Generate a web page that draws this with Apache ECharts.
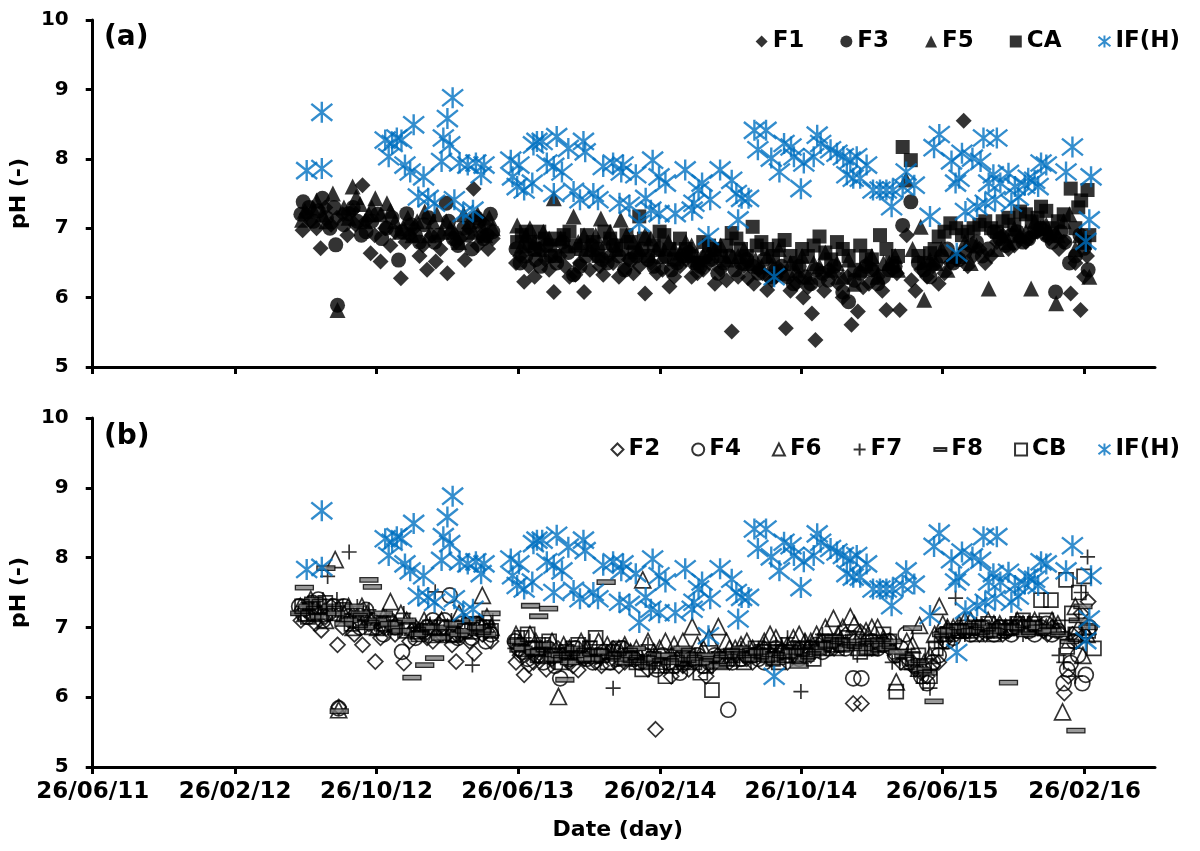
<!DOCTYPE html>
<html><head><meta charset="utf-8">
<script src="https://cdn.jsdelivr.net/npm/echarts@6/dist/echarts.min.js"></script>
<style>html,body{margin:0;padding:0;background:#fff}#c{width:1200px;height:851px}</style>
</head><body><div id="c"></div>
<script>
// Dates are stored as days since the first tick date (26/06/11)
const START_DATE = [2011, 6, 26];
const END_DATE = [2016, 6, 26];
const xTickLabels = ['26/06/11','26/02/12','26/10/12','26/06/13','26/02/14','26/10/14','26/06/15','26/02/16'];
const yMin = 5, yMax = 10, yStep = 1;

// Panel (a)
const F1 = [[361,6.97],[375,7.1],[392,6.71],[410,7.05],[430,7.2],[447,7.25],[464,7.62],[478,6.64],[495,6.52],[512,6.75],[530,6.28],[545,6.9],[562,6.6],[575,6.4],[590,6.52],[610,6.35],[625,6.8],[640,6.54],[655,7.57],[668,6.9],[680,6.7],
[728,6.5],[742,6.23],[760,6.3],[778,6.55],[793,6.08],[812,6.45],[830,6.33],[845,6.08],[865,6.6],[878,6.33],[895,6.5],[915,6.4],[930,6.35],[950,6.06],[970,6.35],[992,6.16],[1010,6.45],[1030,6.3],[1050,6.4],[1070,6.2],[1099,5.51],[1110,6.3],[1127,6.28],[1145,6.4],[1160,6.11],[1175,6.3],[1192,5.56],[1210,6.2],[1222,6.0],[1237,5.77],[1243,5.39],[1258,6.1],[1275,6.35],[1290,6.0],[1305,5.61],[1316,5.8],[1335,6.2],[1350,6.3],[1365,5.82],[1375,6.4],[1388,5.82],[1400,6.9],[1415,6.1],[1435,6.3],[1455,6.2],[1475,6.5],[1498,8.55],[1515,6.6],[1535,6.5],[1555,6.8],[1575,6.7],[1595,6.85],[1615,6.9],[1635,7.0],[1655,6.9],[1670,6.8],[1682,6.06],[1699,5.82],[1710,6.6],
[368,7.2],[385,7.0],[400,7.3],[420,7.15],[438,6.9],[452,7.05],[470,7.1],[485,6.9],[503,7.0],[520,6.95],[538,6.8],[553,7.0],[568,6.75],[583,6.9],[598,6.7],[617,6.95],[632,6.85],[647,7.0],[662,6.75],[675,7.05],[688,6.85],
[735,6.6],[750,6.45],[768,6.7],[785,6.4],[803,6.6],[820,6.3],[838,6.5],[855,6.4],[872,6.45],[888,6.6],[905,6.3],[922,6.55],[940,6.45],[960,6.5],[980,6.4],[1000,6.3],[1020,6.55],[1040,6.35],[1060,6.5],[1080,6.4],[1090,6.25],[1120,6.45],[1137,6.2],[1152,6.35],[1168,6.25],[1183,6.4],[1200,6.1],[1215,6.3],[1230,6.15],[1250,6.25],[1266,6.4],[1282,6.2],[1298,6.3],[1325,6.15],[1342,6.4],[1358,6.1],[1383,6.35],[1408,6.25],[1425,6.4],[1445,6.45],[1465,6.35],[1485,6.55],[1505,6.45],[1525,6.7],[1545,6.6],[1565,6.9],[1585,6.75],[1605,6.8],[1625,6.95],[1645,6.85],[1662,6.7],[1690,6.5],[1705,6.3]];
const F3 = [[362,7.38],[380,7.1],[395,7.43],[408,7.0],[418,6.76],[421,5.89],[440,7.21],[455,7.1],[470,6.95],[490,7.2],[505,7.0],[526,6.54],[540,7.21],[555,6.9],[570,7.05],[588,6.8],[608,7.36],[620,6.85],[638,7.0],[652,6.7],[665,7.1],[678,6.9],[688,6.95],
[728,6.7],[745,6.6],[762,6.55],[780,6.75],[798,6.5],[818,6.65],[827,6.33],[848,6.6],[868,6.7],[885,6.5],[905,6.6],[925,6.55],[945,6.7],[965,6.45],[985,6.6],[1005,6.5],[1025,6.65],[1045,6.45],[1065,6.55],[1085,6.5],[1105,6.4],[1125,6.55],[1145,6.35],[1165,6.3],[1185,6.45],[1205,6.2],[1225,6.3],[1245,6.4],[1265,6.25],[1290,6.08],[1300,5.94],[1320,6.35],[1340,6.4],[1360,6.3],[1380,6.45],[1393,7.04],[1407,7.38],[1420,6.5],[1440,6.3],[1460,6.6],[1480,6.5],[1500,6.65],[1520,6.8],[1540,6.7],[1560,6.85],[1580,6.9],[1600,6.8],[1620,6.95],[1640,6.9],[1656,6.08],[1672,6.8],[1690,6.6],[1705,6.71],[1712,6.4],
[358,7.2],[372,7.3],[388,7.25],[402,7.15],[415,7.3],[432,7.05],[448,7.3],[462,6.9],[480,7.1],[497,6.85],[515,7.15],[532,6.95],[548,7.05],[562,6.8],[578,7.15],[595,6.9],[612,7.1],[628,6.75],[645,6.9],[660,7.15],[672,6.85],[684,7.2],
[735,6.5],[752,6.75],[770,6.45],[788,6.6],[808,6.8],[838,6.45],[858,6.75],[876,6.55],[895,6.75],[915,6.4],[935,6.6],[955,6.55],[975,6.7],[995,6.4],[1015,6.6],[1035,6.5],[1055,6.6],[1075,6.35],[1095,6.6],[1115,6.5],[1135,6.45],[1155,6.55],[1175,6.4],[1195,6.3],[1215,6.45],[1235,6.2],[1255,6.35],[1275,6.45],[1310,6.25],[1330,6.45],[1350,6.2],[1370,6.4],[1430,6.4],[1450,6.5],[1470,6.7],[1490,6.55],[1510,6.75],[1530,6.6],[1550,6.95],[1570,6.75],[1590,6.95],[1610,6.85],[1630,7.0],[1650,6.8],[1665,6.95],[1680,6.5],[1698,6.9]];
const F5 = [[360,7.12],[378,7.3],[395,7.2],[413,7.5],[421,5.82],[432,7.3],[447,7.6],[460,7.35],[475,7.2],[486,7.43],[506,7.36],[520,7.1],[535,7.0],[550,6.9],[571,7.24],[585,7.1],[600,6.95],[615,7.0],[630,6.8],[648,7.1],[662,7.2],[675,6.9],[688,7.0],
[730,7.04],[745,6.9],[760,6.8],[775,6.95],[793,7.43],[805,6.85],[827,7.17],[845,6.9],[874,7.14],[890,6.95],[908,7.12],[930,6.8],[950,6.9],[970,6.7],[990,6.8],[1010,6.65],[1030,6.75],[1050,6.6],[1070,6.7],[1090,6.55],[1110,6.6],[1130,6.5],[1150,6.45],[1170,6.5],[1190,6.35],[1210,6.4],[1230,6.3],[1250,6.45],[1270,6.4],[1290,6.3],[1310,6.2],[1330,6.5],[1350,6.3],[1370,6.5],[1385,6.4],[1399,7.7],[1424,7.02],[1430,5.97],[1450,6.5],[1470,6.4],[1490,6.6],[1510,6.5],[1541,6.13],[1555,6.7],[1575,6.8],[1595,6.9],[1614,6.13],[1630,7.0],[1645,6.95],[1657,5.92],[1670,7.1],[1690,6.7],[1705,6.8],[1714,6.3],
[365,7.25],[385,7.4],[402,7.1],[440,7.15],[453,7.45],[468,7.1],[480,7.3],[495,7.2],[512,7.25],[528,6.95],[542,7.15],[558,7.1],[578,6.9],[592,7.2],[608,7.1],[622,6.95],[638,7.2],[655,6.95],[668,7.05],[682,7.15],
[738,6.75],[752,7.0],[768,6.7],[785,6.85],[815,6.75],[835,6.8],[855,6.7],[865,6.9],[882,6.8],[900,6.7],[918,6.9],[940,6.7],[960,6.85],[980,6.6],[1000,6.7],[1020,6.8],[1040,6.55],[1060,6.65],[1080,6.75],[1100,6.6],[1120,6.7],[1140,6.55],[1160,6.6],[1180,6.7],[1200,6.5],[1220,6.6],[1240,6.5],[1260,6.65],[1280,6.5],[1300,6.55],[1320,6.4],[1340,6.6],[1360,6.5],[1380,6.6],[1410,6.7],[1440,6.55],[1460,6.7],[1480,6.6],[1500,6.8],[1520,6.75],[1565,6.9],[1585,7.0],[1605,6.95],[1620,7.1],[1640,7.05],[1660,6.9],[1680,7.2],[1698,6.9]];
const CA = [[730,6.8],[745,6.95],[760,6.7],[778,6.85],[795,6.6],[810,6.9],[830,6.75],[850,6.9],[870,6.6],[890,6.85],[910,6.7],[925,6.8],[940,7.17],[955,6.6],[983,6.9],[1000,6.55],[1020,6.7],[1040,6.5],[1060,6.75],[1080,6.6],[1099,6.93],[1115,6.7],[1135,7.02],[1150,6.8],[1170,6.6],[1190,6.83],[1210,6.5],[1230,6.6],[1250,6.88],[1270,6.55],[1290,6.7],[1310,6.4],[1330,6.6],[1354,6.9],[1375,6.5],[1393,8.17],[1407,7.98],[1420,6.6],[1440,6.64],[1455,6.88],[1475,7.07],[1495,6.9],[1515,7.0],[1535,7.1],[1555,6.95],[1575,7.15],[1595,7.24],[1615,7.1],[1631,7.31],[1650,7.0],[1670,7.2],[1682,7.57],[1695,7.3],[1711,7.55],[1714,6.9],
[738,6.9],[752,6.8],[768,6.95],[787,6.75],[802,6.85],[820,6.95],[840,6.7],[860,6.8],[880,6.95],[900,6.75],[918,6.9],[932,6.65],[948,6.85],[965,6.75],[975,6.95],[992,6.7],[1010,6.85],[1030,6.6],[1050,6.8],[1070,6.7],[1090,6.75],[1107,6.85],[1125,6.6],[1142,6.75],[1160,6.7],[1180,6.75],[1200,6.6],[1220,6.7],[1240,6.75],[1260,6.65],[1280,6.8],[1300,6.6],[1320,6.75],[1340,6.55],[1365,6.7],[1385,6.6],[1430,6.5],[1448,6.7],[1465,6.95],[1485,7.0],[1505,6.95],[1525,7.05],[1545,7.0],[1565,7.1],[1585,7.05],[1605,7.2],[1625,7.15],[1640,7.25],[1660,7.1],[1690,7.0],[1700,7.4],[1706,6.8]];
const IF_H = [[368,7.83],[394,8.67],[394,7.86],[503,8.27],[509,8.03],[515,8.22],[523,8.30],[531,8.27],[537,7.91],[546,7.81],[552,8.49],[560,7.45],[569,7.74],[577,7.43],[588,7.36],[600,7.96],[603,8.30],[610,8.58],[614,8.20],[619,8.88],[622,7.41],[631,7.94],[637,7.21],[645,7.91],[654,7.26],[659,7.94],[668,7.77],[673,7.91],
[719,7.98],[722,7.74],[730,7.60],[733,7.91],[742,7.55],[756,7.65],[758,8.20],[764,8.25],[773,8.25],[781,7.94],[793,7.89],[793,7.50],[798,8.32],[807,7.81],[818,8.15],[827,7.53],[838,7.41],[844,8.25],[847,8.10],[861,7.50],[869,7.41],[878,7.89],[895,7.94],[906,7.36],[909,7.81],[912,7.91],[923,7.33],[934,7.77],[940,7.07],[951,7.43],[960,7.26],[963,7.98],[974,7.74],[974,7.21],[985,7.65],[1002,7.21],[1019,7.84],[1031,7.26],[1034,7.36],[1042,7.55],[1048,7.65],[1059,6.88],[1062,7.41],[1079,7.84],[1099,7.69],[1107,7.50],[1110,7.12],[1116,7.43],[1128,7.43],[1138,8.41],[1144,8.13],[1158,8.41],[1167,8.01],[1172,6.30],[1181,7.81],[1189,8.22],[1201,8.17],[1206,8.03],[1218,7.57],[1223,7.94],[1240,8.03],[1246,8.34],[1252,8.22],[1269,8.13],[1280,8.08],[1291,8.03],[1297,7.77],[1303,7.98],[1308,7.72],[1314,8.03],[1320,7.72],[1331,7.91],[1342,7.55],[1354,7.55],[1365,7.55],[1374,7.31],[1376,7.55],[1393,7.60],[1399,7.81],[1413,7.62],[1440,7.17],[1447,8.16],[1456,8.35],[1477,7.97],[1484,7.65],[1486,6.64],[1490,7.72],[1495,8.08],[1501,7.24],[1513,8.01],[1521,7.31],[1527,7.96],[1532,8.30],[1535,7.36],[1541,7.65],[1549,7.77],[1552,7.41],[1555,8.30],[1561,7.65],[1575,7.79],[1580,7.36],[1586,7.60],[1592,7.45],[1603,7.62],[1609,7.72],[1620,7.69],[1626,7.60],[1631,7.94],[1640,7.91],[1674,7.81],[1685,8.17],[1708,6.81],[1714,7.12],[1717,7.74]];

// Panel (b)
const F2 = [[358,7.1],[375,7.2],[393,6.96],[410,7.3],[421,6.75],[423,5.86],[440,7.1],[464,6.75],[486,6.51],[500,7.0],[520,6.9],[535,6.49],[555,7.0],[575,6.85],[595,7.05],[610,6.9],[625,6.51],[640,7.0],[656,6.63],[670,6.9],[685,6.8],
[728,6.5],[742,6.32],[750,6.46],[765,6.6],[780,6.4],[800,6.7],[818,6.5],[835,6.39],[855,6.6],[875,6.45],[895,6.7],[915,6.5],[935,6.55],[955,6.4],[968,5.54],[995,6.3],[1015,6.45],[1035,6.5],[1055,6.3],[1075,6.6],[1095,6.5],[1115,6.65],[1135,6.5],[1155,6.7],[1175,6.6],[1195,6.5],[1215,6.7],[1235,6.6],[1255,6.8],[1275,6.7],[1295,6.9],[1308,5.91],[1320,6.94],[1322,5.91],[1340,6.7],[1360,6.8],[1380,6.6],[1400,6.55],[1415,6.4],[1435,6.3],[1455,6.5],[1475,6.9],[1495,6.95],[1515,7.0],[1535,6.9],[1555,7.0],[1575,6.95],[1595,7.05],[1615,7.0],[1635,6.95],[1650,7.0],[1671,6.06],[1685,6.9],[1700,7.2],[1712,7.37],
[365,7.25],[383,7.05],[400,7.15],[430,7.0],[450,6.9],[475,7.05],[495,6.85],[512,7.1],[545,6.8],[565,6.95],[585,6.8],[603,7.0],[618,6.75],[632,6.9],[648,6.8],[663,7.05],[678,6.95],
[735,6.6],[758,6.5],[772,6.7],[790,6.55],[808,6.6],[826,6.45],[845,6.55],[865,6.5],[885,6.6],[905,6.45],[925,6.6],[945,6.5],[980,6.45],[1005,6.55],[1025,6.4],[1045,6.55],[1065,6.45],[1085,6.55],[1105,6.6],[1125,6.55],[1145,6.65],[1165,6.55],[1185,6.65],[1205,6.6],[1225,6.65],[1245,6.7],[1265,6.75],[1285,6.8],[1350,6.75],[1370,6.7],[1390,6.5],[1425,6.35],[1445,6.45],[1465,6.8],[1485,6.9],[1505,6.95],[1525,6.9],[1545,6.95],[1565,6.9],[1585,7.0],[1605,6.95],[1625,7.0],[1642,6.9],[1660,6.95],[1678,6.3],[1692,6.8],[1706,6.9]];
const F4 = [[355,7.3],[370,7.15],[388,7.4],[405,7.2],[423,5.84],[432,7.3],[450,7.1],[470,7.25],[490,7.0],[510,7.1],[532,6.65],[545,7.0],[565,6.95],[585,7.1],[614,7.46],[620,6.9],[635,7.05],[652,6.85],[668,7.0],[685,6.9],
[726,6.8],[740,6.65],[758,6.7],[775,6.5],[804,6.27],[810,6.6],[830,6.7],[850,6.55],[870,6.6],[890,6.5],[910,6.7],[930,6.55],[950,6.6],[970,6.4],[990,6.5],[1010,6.35],[1030,6.55],[1050,6.45],[1070,6.6],[1093,5.82],[1100,6.5],[1115,6.55],[1135,6.6],[1155,6.5],[1175,6.7],[1195,6.6],[1215,6.55],[1235,6.7],[1255,6.65],[1275,6.8],[1295,6.7],[1308,6.27],[1322,6.27],[1340,6.8],[1360,6.75],[1380,6.6],[1398,6.9],[1415,6.45],[1435,6.2],[1455,6.6],[1470,6.8],[1490,6.95],[1510,6.9],[1530,7.0],[1550,6.9],[1570,6.95],[1590,7.0],[1610,6.95],[1630,7.0],[1650,6.9],[1670,6.2],[1682,6.49],[1695,6.6],[1708,6.32],[1714,7.0],
[362,7.2],[378,7.35],[396,7.1],[414,7.3],[440,7.15],[460,7.0],[480,7.1],[500,6.9],[520,7.0],[555,6.85],[575,7.0],[595,6.9],[605,7.1],[628,6.85],[643,6.95],[660,7.05],[676,6.8],
[733,6.7],[748,6.55],[766,6.6],[783,6.7],[795,6.45],[820,6.55],[840,6.6],[860,6.5],[880,6.65],[900,6.55],[920,6.6],[940,6.5],[960,6.55],[980,6.6],[1000,6.45],[1020,6.5],[1040,6.6],[1060,6.5],[1080,6.55],[1125,6.6],[1145,6.55],[1165,6.6],[1185,6.65],[1205,6.7],[1225,6.6],[1245,6.75],[1265,6.7],[1285,6.75],[1350,6.7],[1370,6.8],[1390,6.7],[1405,6.5],[1425,6.3],[1445,6.5],[1462,6.9],[1480,6.85],[1500,6.95],[1520,7.0],[1540,6.95],[1560,7.0],[1580,6.9],[1600,7.0],[1620,6.9],[1640,7.05],[1660,6.95],[1676,6.4],[1688,6.8],[1702,6.2]];
const F6 = [[357,7.3],[375,7.4],[392,7.2],[417,7.97],[423,5.82],[440,7.3],[455,7.1],[472,7.2],[490,7.0],[512,7.37],[530,7.2],[550,7.0],[570,7.1],[590,6.9],[610,7.0],[630,7.2],[650,6.95],[670,7.46],[685,7.0],
[728,6.9],[745,6.7],[762,6.8],[780,6.6],[801,6.01],[820,6.7],[840,6.8],[860,6.6],[885,6.75],[905,6.7],[925,6.65],[946,7.68],[965,6.65],[985,6.8],[1000,6.75],[1031,7.01],[1050,6.7],[1076,7.01],[1090,6.8],[1105,6.7],[1125,6.8],[1145,6.65],[1165,6.9],[1185,6.7],[1205,6.85],[1225,6.8],[1245,6.9],[1274,7.13],[1290,7.0],[1303,7.15],[1320,6.9],[1340,7.0],[1360,6.85],[1382,6.22],[1400,6.8],[1422,7.03],[1440,6.6],[1456,7.3],[1470,7.0],[1490,7.05],[1510,7.1],[1530,7.0],[1550,7.05],[1570,7.0],[1590,7.1],[1610,7.05],[1630,7.0],[1650,7.1],[1668,5.79],[1680,6.82],[1695,7.0],[1710,6.9],
[365,7.2],[383,7.3],[400,7.1],[432,7.2],[448,7.0],[463,7.3],[480,7.1],[500,7.15],[520,7.05],[540,7.1],[560,6.95],[580,7.0],[600,7.1],[620,6.9],[640,7.05],[660,7.0],[678,7.15],
[735,6.8],[752,6.9],[770,6.7],[790,6.8],[810,6.75],[830,6.6],[850,6.7],[870,6.8],[895,6.65],[915,6.75],[935,6.7],[955,6.8],[975,6.7],[995,6.6],[1015,6.8],[1040,6.75],[1060,6.85],[1095,6.7],[1115,6.75],[1135,6.7],[1155,6.8],[1175,6.85],[1195,6.75],[1215,6.9],[1235,6.8],[1260,7.0],[1282,6.9],[1310,7.05],[1330,6.95],[1350,7.0],[1370,6.8],[1410,6.75],[1430,6.5],[1448,6.9],[1462,7.05],[1480,7.0],[1500,7.1],[1520,7.0],[1540,7.1],[1560,7.05],[1580,7.0],[1600,7.05],[1620,7.1],[1640,7.0],[1660,7.05],[1690,7.3],[1703,6.6]];
const F7 = [[354,7.2],[370,7.35],[388,7.3],[404,7.73],[420,7.4],[441,8.08],[455,7.3],[475,7.25],[495,7.1],[515,7.0],[535,7.2],[555,7.0],[570,6.9],[589,7.51],[610,7.0],[625,6.9],[640,7.1],[653,6.46],[665,7.1],[682,7.0],
[726,6.7],[742,6.85],[760,6.6],[778,6.75],[795,6.5],[815,6.7],[835,6.6],[855,6.8],[875,6.55],[895,6.13],[915,6.7],[935,6.6],[955,6.75],[975,6.5],[995,6.6],[1015,6.45],[1035,6.6],[1055,6.5],[1075,6.65],[1095,6.55],[1115,6.7],[1135,6.6],[1155,6.75],[1175,6.75],[1195,6.85],[1218,6.08],[1235,6.7],[1255,6.9],[1275,6.75],[1295,6.8],[1315,6.6],[1335,6.9],[1355,6.75],[1375,6.5],[1400,6.6],[1418,6.3],[1440,6.13],[1455,6.7],[1470,7.0],[1484,7.42],[1500,6.9],[1520,7.05],[1540,6.95],[1560,7.0],[1580,7.05],[1600,6.9],[1620,7.0],[1640,6.95],[1655,7.0],[1670,6.5],[1690,6.3],[1711,8.01],[1714,6.9],
[362,7.3],[378,7.2],[396,7.4],[412,7.2],[430,7.3],[448,7.1],[465,7.2],[485,7.05],[505,7.15],[525,6.95],[545,7.1],[562,6.95],[580,7.05],[598,6.9],[617,7.1],[632,6.95],[647,7.05],[672,6.9],[688,7.1],
[733,6.75],[750,6.65],[768,6.7],[786,6.6],[805,6.65],[825,6.55],[845,6.7],[865,6.6],[885,6.65],[905,6.55],[925,6.65],[945,6.55],[965,6.6],[985,6.55],[1005,6.5],[1025,6.55],[1045,6.6],[1065,6.55],[1085,6.6],[1105,6.6],[1125,6.65],[1145,6.7],[1165,6.65],[1185,6.75],[1205,6.7],[1225,6.8],[1245,6.75],[1265,6.8],[1285,6.85],[1305,6.7],[1325,6.8],[1345,6.7],[1365,6.75],[1388,6.55],[1408,6.4],[1428,6.2],[1462,6.85],[1478,6.95],[1492,7.0],[1510,6.95],[1530,7.0],[1550,6.95],[1570,7.0],[1590,6.95],[1610,7.05],[1630,7.0],[1648,6.95],[1662,6.6],[1680,6.9],[1700,7.5]];
const F8 = [[356,7.2],[364,7.57],[380,7.4],[401,7.85],[410,7.3],[424,5.8],[440,7.1],[460,7.2],[475,7.68],[481,7.58],[500,7.2],[520,7.0],[549,6.28],[571,6.46],[588,6.56],[610,7.0],[630,6.9],[650,7.1],[670,6.95],[685,7.2],
[730,6.8],[753,7.31],[767,7.16],[784,7.27],[795,6.6],[812,6.25],[830,6.7],[850,6.55],[883,7.65],[895,6.6],[915,6.5],[935,6.7],[955,6.45],[975,6.6],[995,6.5],[1015,6.7],[1035,6.55],[1055,6.6],[1075,6.45],[1095,6.6],[1115,6.7],[1135,6.55],[1155,6.6],[1175,6.5],[1195,6.6],[1215,6.45],[1235,6.6],[1255,6.7],[1275,6.85],[1295,6.7],[1315,6.8],[1335,6.65],[1355,6.75],[1375,6.8],[1395,6.6],[1410,6.99],[1425,6.4],[1447,5.94],[1460,6.9],[1480,7.0],[1500,6.95],[1520,7.05],[1540,6.9],[1560,7.0],[1575,6.21],[1595,6.95],[1615,7.05],[1635,7.0],[1650,6.95],[1691,5.52],[1695,7.1],[1712,7.0],
[370,7.3],[390,7.15],[418,7.2],[432,7.05],[450,7.3],[468,7.0],[490,7.1],[510,7.05],[530,6.95],[540,7.1],[560,6.9],[580,7.0],[598,6.85],[620,7.05],[640,6.95],[660,7.0],[678,6.9],
[740,6.7],[760,6.65],[776,6.75],[790,6.55],[804,6.6],[820,6.5],[840,6.6],[860,6.55],[870,6.65],[905,6.55],[925,6.6],[945,6.5],[965,6.55],[985,6.6],[1005,6.55],[1025,6.6],[1045,6.5],[1065,6.55],[1085,6.6],[1105,6.65],[1125,6.6],[1145,6.65],[1165,6.55],[1185,6.6],[1205,6.65],[1225,6.55],[1245,6.65],[1265,6.75],[1285,6.8],[1305,6.75],[1325,6.7],[1345,6.8],[1365,6.7],[1385,6.65],[1418,6.5],[1436,6.35],[1470,6.95],[1490,7.0],[1510,6.95],[1530,7.0],[1550,6.95],[1585,7.0],[1605,6.9],[1625,7.0],[1642,6.95],[1662,6.9],[1680,6.8],[1703,7.3]];
const CB = [[360,7.3],[380,7.2],[400,7.35],[430,7.25],[460,7.1],[500,7.05],[540,6.95],[580,7.0],[620,6.9],[660,7.05],[685,6.95],
[730,6.75],[748,6.9],[765,6.6],[785,6.8],[805,6.5],[825,6.7],[845,6.6],[865,6.85],[885,6.5],[905,6.7],[925,6.6],[945,6.4],[965,6.55],[985,6.3],[1005,6.5],[1025,6.6],[1045,6.35],[1065,6.10],[1080,6.5],[1100,6.6],[1120,6.5],[1140,6.7],[1160,6.6],[1180,6.5],[1200,6.65],[1220,6.7],[1240,6.55],[1260,6.8],[1280,6.7],[1300,6.85],[1320,6.65],[1340,6.7],[1360,6.9],[1382,6.08],[1400,6.5],[1420,6.6],[1440,6.3],[1460,6.8],[1480,6.95],[1500,7.0],[1520,6.9],[1540,7.05],[1560,6.95],[1580,7.0],[1600,7.1],[1620,7.05],[1631,7.39],[1648,7.39],[1674,7.68],[1676,6.72],[1690,6.9],[1705,7.73],[1722,6.70],
[370,7.15],[390,7.3],[415,7.2],[445,7.05],[480,7.0],[520,7.0],[560,6.9],[600,7.0],[640,6.95],[672,7.0],
[738,6.85],[756,6.7],[775,6.75],[795,6.6],[815,6.65],[835,6.75],[855,6.7],[875,6.6],[895,6.65],[915,6.55],[935,6.5],[955,6.5],[975,6.45],[995,6.45],[1015,6.55],[1035,6.5],[1055,6.45],[1090,6.55],[1110,6.55],[1130,6.6],[1150,6.65],[1170,6.55],[1190,6.6],[1210,6.6],[1230,6.65],[1250,6.7],[1270,6.75],[1290,6.75],[1310,6.8],[1330,6.7],[1350,6.75],[1370,6.8],[1410,6.55],[1430,6.45],[1450,6.7],[1470,6.9],[1490,6.95],[1510,6.95],[1530,7.0],[1550,6.9],[1570,7.0],[1590,7.05],[1610,7.0],[1640,7.1],[1660,7.0],[1684,7.2],[1696,7.5],[1712,6.95]];

const DAY = 86400000;
const startMs = Date.UTC(START_DATE[0], START_DATE[1]-1, START_DATE[2]);
const endDay = Math.round((Date.UTC(END_DATE[0], END_DATE[1]-1, END_DATE[2]) - startMs) / DAY);
const tickDays = xTickLabels.map(s => { const p = s.split('/'); return Math.round((Date.UTC(2000 + +p[2], +p[1]-1, +p[0]) - startMs) / DAY); });

const FONT = 'DejaVu Sans';
const BLUE = '#0070C0';
const ASTER = 'path://M10,0V20M0,2L20,18M0,18L20,2';
const PLUS = 'path://M0,7H14M7,0V14';
const DASH = 'path://M0,0M0,16M0,6H16V10H0Z';
const CLEAR = 'rgba(0,0,0,0)';

function xAx(i){
  return {type:'value', gridIndex:i, min:0, max:endDay,
    axisLine:{show:true, onZero:false, lineStyle:{color:'#000', width:3}},
    axisTick:{show:true, customValues:tickDays, length:7, lineStyle:{color:'#000', width:3}},
    axisLabel:{show:i===1, customValues:tickDays, margin:14, fontSize:23, fontWeight:'bold', color:'#000', fontFamily:FONT,
      formatter: v => { const k = tickDays.indexOf(Math.round(v)); return k >= 0 ? xTickLabels[k] : ''; }},
    splitLine:{show:false},
    name: i===1 ? 'Date (day)' : '', nameLocation:'middle', nameGap:52,
    nameTextStyle:{fontSize:22, fontWeight:'bold', color:'#000', fontFamily:FONT, padding:[0,12,0,0]}};
}
function yAx(i){
  return {type:'value', gridIndex:i, min:yMin, max:yMax, interval:yStep,
    axisLine:{show:true, onZero:false, lineStyle:{color:'#000', width:3}},
    axisTick:{show:true, length:7, lineStyle:{color:'#000', width:3}},
    axisLabel:{fontSize:20, fontWeight:'bold', color:'#000', fontFamily:FONT, margin:24},
    splitLine:{show:false},
    name:'pH (-)', nameLocation:'middle', nameGap:34, nameRotate:90,
    nameTextStyle:{fontSize:22, fontWeight:'bold', color:'#000', fontFamily:FONT}};
}
function sc(name, data, g, symbol, size, itemStyle){
  return {type:'scatter', name, data, xAxisIndex:g, yAxisIndex:g, symbol, symbolSize:size, itemStyle, emphasis:{disabled:true}, silent:true};
}
const solid = {color:'#000'};
const hollow = {color:CLEAR, borderColor:'#000', borderWidth:1.7};
const blue = {color:BLUE, borderColor:BLUE, borderWidth:2.4};

const legendText = {fontSize:23, fontWeight:'bold', color:'#000', fontFamily:FONT};
const option = {
  animation:false,
  backgroundColor:'#fff',
  title:[
    {text:'(a)', left:104, top:24, padding:0, textStyle:{fontSize:28, fontWeight:'bold', color:'#000', fontFamily:FONT}},
    {text:'(b)', left:104, top:423, padding:0, textStyle:{fontSize:28, fontWeight:'bold', color:'#000', fontFamily:FONT}}
  ],
  legend:[
    {data:['F1','F3','F5','CA','IF(H)'], right:20, top:30, padding:0, itemWidth:12, itemHeight:12, itemGap:36, selectedMode:false, textStyle:legendText},
    {data:['F2','F4','F6','F7','F8','CB','IF(H)'], right:20, top:438, padding:0, itemWidth:12, itemHeight:12, itemGap:31, selectedMode:false, textStyle:legendText}
  ],
  grid:[{left:81, right:45, top:20, height:347}, {left:81, right:45, top:418, height:349}],
  xAxis:[xAx(0), xAx(1)],
  yAxis:[yAx(0), yAx(1)],
  series:[
    sc('F1', F1, 0, 'diamond', 16, solid),
    sc('F3', F3, 0, 'circle', 15, solid),
    sc('F5', F5, 0, 'triangle', 16, solid),
    sc('CA', CA, 0, 'rect', 14, solid),
    sc('IF(H)', IF_H, 0, ASTER, 21, blue),
    sc('F2', F2, 1, 'diamond', 15, hollow),
    sc('F4', F4, 1, 'circle', 15, hollow),
    sc('F6', F6, 1, 'triangle', 16, hollow),
    sc('F7', F7, 1, PLUS, 15, {color:'#000', borderColor:'#000', borderWidth:1.7}),
    sc('F8', F8, 1, DASH, 18, {color:'#808080', borderColor:'#000', borderWidth:1.3}),
    sc('CB', CB, 1, 'rect', 14, hollow),
    sc('IF(H)', IF_H, 1, ASTER, 21, blue)
  ]
};
const chart = echarts.init(document.getElementById('c'), null, {renderer:'canvas'});
chart.setOption(option);
</script></body></html>
